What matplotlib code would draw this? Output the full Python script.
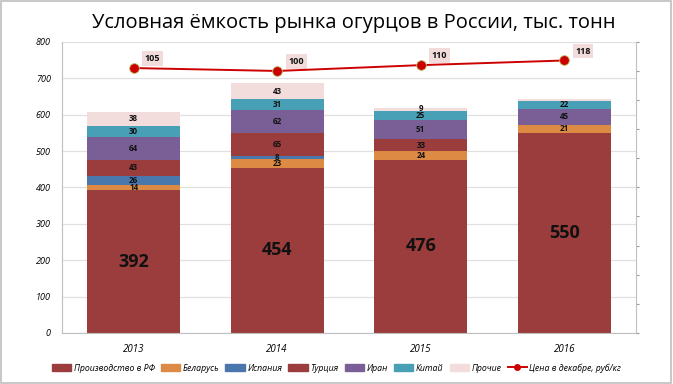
import matplotlib
matplotlib.use("Agg")
import matplotlib.pyplot as plt
from matplotlib.patches import Rectangle
from matplotlib.lines import Line2D
import numpy as np

plt.rcParams['font.family'] = ['Open Sans', 'DejaVu Sans']

years = ['2013', '2014', '2015', '2016']
series_names = ['Производство в РФ', 'Беларусь', 'Испания', 'Турция', 'Иран', 'Китай', 'Прочие']
production = [392, 454, 476, 550]
belarus = [14, 23, 24, 21]
spain = [26, 8, 0, 0]
turkey = [43, 65, 33, 0]
iran = [64, 62, 51, 45]
china = [30, 31, 25, 22]
other = [38, 43, 9, 5]
price = [105, 100, 110, 118]
price_name = 'Цена в декабре, руб/кг'

colors = ['#9a3d3c', '#dd8a44', '#4a78ad', '#9a3d3c', '#7a5f96', '#48a0b6', '#f2dcdc']
series = [production, belarus, spain, turkey, iran, china, other]

fig = plt.figure(figsize=(6.73, 3.84), dpi=100)
fig.patches.append(Rectangle((0.002, 0.003), 0.995, 0.994, transform=fig.transFigure,
                             fill=False, edgecolor='#bfbfbf', linewidth=1.2))

ax = fig.add_axes([0.092, 0.133, 0.853, 0.758])
x = np.arange(len(years))
width = 0.65
bottom = np.zeros(len(years))
for i, (name, vals) in enumerate(zip(series_names, series)):
    vals = np.array(vals, dtype=float)
    ax.bar(x, vals, width, bottom=bottom, color=colors[i], label=name, zorder=2)
    for j, v in enumerate(vals):
        if i == 0:
            ax.text(x[j], bottom[j] + v / 2, f'{int(v)}', ha='center', va='center',
                    fontsize=13, fontweight='bold', color='#111111', zorder=3)
        elif v >= 8:
            # small segments: nudge label so it does not collide with the one below
            off = 2 if v < 12 else 0
            ax.text(x[j], bottom[j] + v / 2 + off, f'{int(v)}', ha='center', va='center',
                    fontsize=5.8, fontweight='bold', color='#111111', zorder=3)
    bottom += vals

ax.set_ylim(0, 800)
ax.set_xlim(-0.5, len(years) - 0.5)
ax.set_yticks(range(0, 801, 100))
ax.set_yticklabels([str(v) for v in range(0, 801, 100)], fontsize=6.5, style='italic')
ax.set_xticks(x)
ax.set_xticklabels(years, fontsize=7, style='italic')
ax.tick_params(axis='both', length=0, pad=8)
ax.grid(axis='y', color='#e0e0e0', linewidth=0.9, zorder=0)
for s in ['top', 'right']:
    ax.spines[s].set_visible(False)
ax.spines['left'].set_color('#bfbfbf')
ax.spines['bottom'].set_color('#bfbfbf')

ax2 = ax.twinx()
ax2.set_ylim(-350, 150)
ax2.set_yticks(range(-350, 151, 50))
ax2.set_yticklabels([])
ax2.tick_params(axis='y', length=2, color='#999999')
for s in ['top', 'left', 'bottom']:
    ax2.spines[s].set_visible(False)
ax2.spines['right'].set_color('#bfbfbf')
ax2.plot(x, price, color='#cc0000', linewidth=1.4, marker='o', markersize=7,
         markerfacecolor='#cc0000', markeredgecolor='#b9c26b', markeredgewidth=0.6, zorder=5)
for j, p in enumerate(price):
    ax2.annotate(str(p), (x[j], p), xytext=(8, 5), textcoords='offset points',
                 fontsize=6.5, fontweight='bold', color='#111111',
                 bbox=dict(boxstyle='square,pad=0.3', facecolor='#f2dcdb', edgecolor='none'))

fig.text(0.525, 0.94, 'Условная ёмкость рынка огурцов в России, тыс. тонн',
         ha='center', va='center', fontsize=14.5, color='#000000')

handles = [Rectangle((0, 0), 1, 1, color=c) for c in colors]
handles.append(Line2D([0], [0], color='#cc0000', marker='o', markersize=4, linewidth=1.4))
fig.legend(handles, series_names + [price_name], loc='center', bbox_to_anchor=(0.5, 0.042),
           ncol=8, frameon=False, prop={'size': 6.3, 'style': 'italic'},
           handlelength=2.2, handleheight=0.8, handletextpad=0.3, columnspacing=0.7)

fig.savefig('out.png', dpi=100)
